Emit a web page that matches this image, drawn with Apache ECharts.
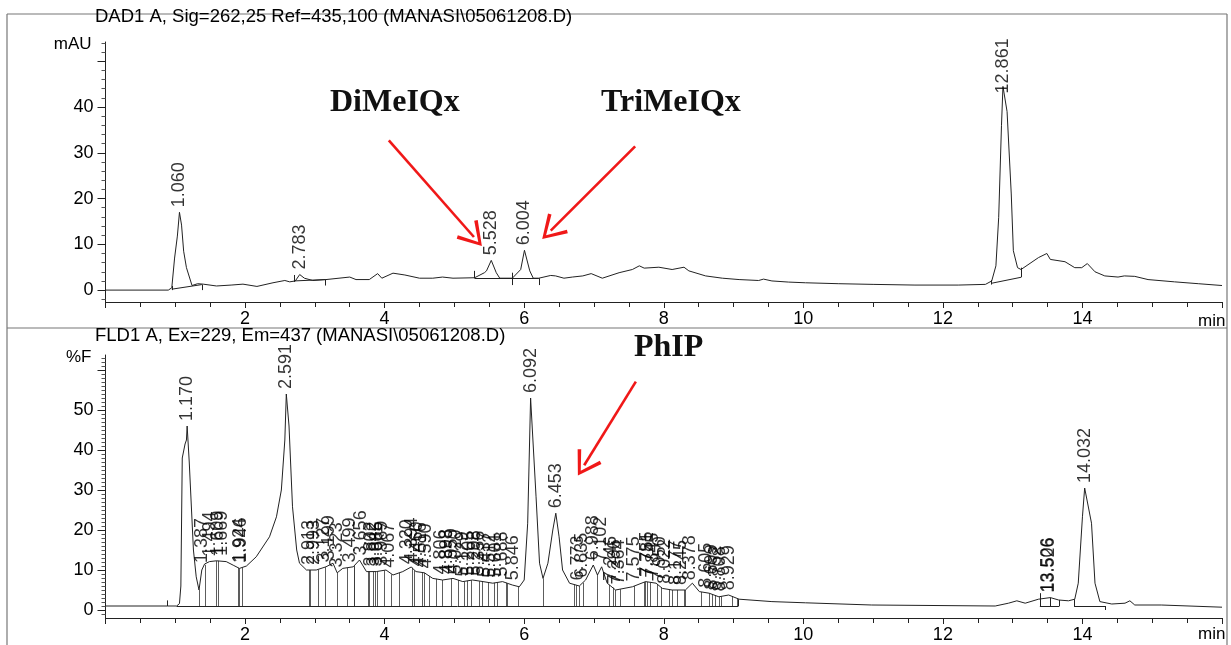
<!DOCTYPE html>
<html>
<head>
<meta charset="utf-8">
<script src="https://cdn.jsdelivr.net/npm/echarts@6/dist/echarts.min.js"></script>
<style>
html,body{margin:0;padding:0;background:#fff;}
#chart{width:1231px;height:645px;}
</style>
</head>
<body>
<div id="chart"></div>
<script>
// ---- DAD1 A trace (time in min, absorbance in mAU) ----
const dadTrace = [
  [0,0],[0.90,0],[0.95,0.5],[0.99,7],[1.03,11.8],[1.06,17],[1.09,14.2],[1.12,8.5],[1.16,4.9],[1.24,1.0],
  [1.32,1.4],[1.40,1.3],[1.59,0.9],[1.80,1.1],[1.97,1.3],[2.17,0.8],[2.40,1.6],[2.57,2.1],[2.64,1.8],
  [2.72,2.0],[2.783,3.4],[2.85,2.6],[2.97,2.1],[3.16,2.3],[3.50,2.85],[3.59,2.3],[3.78,2.3],[3.90,3.6],
  [3.96,2.6],[4.12,3.7],[4.29,3.3],[4.50,2.6],[4.69,2.6],[4.83,2.85],[4.98,2.6],[5.29,2.7],[5.43,3.8],
  [5.46,4.2],[5.528,6.5],[5.60,3.8],[5.65,2.6],[5.83,2.6],[5.95,4.5],[6.004,8.7],[6.08,4.2],[6.13,2.6],
  [6.21,2.6],[6.38,3.2],[6.45,3.1],[6.57,2.6],[6.69,2.85],[6.84,3.1],[6.96,3.6],[7.12,2.6],[7.36,3.8],
  [7.55,4.5],[7.65,5.3],[7.72,4.8],[7.93,5.0],[8.12,4.5],[8.29,5.0],[8.36,4.2],[8.60,3.1],[8.84,2.6],
  [9.08,2.3],[9.36,2.1],[9.43,2.4],[9.55,2.0],[9.79,1.75],[10.03,1.6],[10.5,1.4],[11.0,1.25],[11.6,1.1],
  [12.22,1.1],[12.61,1.25],[12.70,2.0],[12.76,5.3],[12.80,15.9],[12.84,36],[12.861,44.5],[12.92,39],
  [12.98,21],[13.01,8.6],[13.07,4.9],[13.12,4.5],[13.37,7.1],[13.49,8.0],[13.54,6.7],[13.75,6.2],
  [13.89,4.9],[13.99,4.9],[14.07,5.8],[14.18,4.0],[14.32,3.1],[14.51,2.85],[14.60,3.1],[14.75,3.0],
  [14.94,2.3],[15.32,1.8],[15.66,1.4],[16.0,1.0]
];
const dadPeakTimes = [1.060, 2.783, 5.528, 6.004, 12.861];
const dadPeakHeights = [17, 3.4, 6.5, 8.7, 44.5];
// integration baselines and event marks
const dadBaselines = [
  [[0.95,0.2],[1.38,1.2]], [[2.70,2.0],[3.15,2.3]], [[5.29,2.6],[5.83,2.6]],
  [[5.83,2.6],[6.21,2.6]], [[12.70,1.5],[13.12,2.8]]
];
const dadEventMarks = [
  [[0.95,0],[0.95,0.9]], [[1.38,0],[1.38,1.2]], [[2.70,1.8],[2.70,3.3]], [[3.15,1.0],[3.15,2.3]],
  [[5.29,2.6],[5.29,4.2]], [[5.83,1.1],[5.83,3.8]], [[6.21,1.1],[6.21,2.6]],
  [[12.70,1.2],[12.70,2.2]], [[13.12,2.8],[13.12,4.9]]
];

// ---- FLD1 A trace (time in min, fluorescence in %F) ----
const fldTrace = [
  [0,1.0],[0.89,1.0],[1.02,1.0],[1.06,1.6],[1.08,6],[1.10,38],[1.14,41.5],[1.16,42.5],[1.17,46],
  [1.20,37],[1.23,26],[1.26,15],[1.30,8.3],[1.34,5],[1.38,10],[1.42,11.5],[1.44,11.0],[1.49,12.1],
  [1.59,12.3],[1.73,12.1],[1.83,11.2],[1.92,10.4],[2.02,11],[2.16,13.3],[2.35,18.3],[2.45,23.3],
  [2.52,30],[2.57,42.5],[2.591,54],[2.63,46],[2.68,25.8],[2.74,15],[2.78,11.7],[2.88,10],[3.02,10],
  [3.16,10.8],[3.26,11.7],[3.32,9.3],[3.40,10.4],[3.55,10.8],[3.64,12.5],[3.74,9.6],[3.88,9.6],
  [4.02,10],[4.12,8.75],[4.26,9.6],[4.38,10.75],[4.45,9.6],[4.57,9.3],[4.69,7.9],[4.83,7.5],
  [4.98,7.9],[5.12,7.1],[5.26,7.5],[5.41,7.1],[5.55,6.7],[5.69,7.1],[5.83,6.25],[5.93,5.8],[6.0,7.5],
  [6.05,21.7],[6.092,53],[6.17,28.3],[6.22,11.7],[6.27,7.9],[6.34,11.7],[6.41,20],[6.453,24.2],
  [6.50,18.3],[6.55,10],[6.65,6.7],[6.79,6],[6.88,7.5],[6.99,11.25],[7.05,8.75],[7.11,10.8],
  [7.19,6.7],[7.31,5],[7.55,5.8],[7.74,7.1],[7.89,6.7],[7.98,5.4],[8.12,5],[8.31,5],[8.41,6.7],
  [8.51,4.6],[8.65,4.2],[8.79,3.3],[8.93,3.75],[9.08,2.7],[9.55,2.1],[10.03,1.8],[10.98,1.25],
  [12.75,1.0],[12.94,1.7],[13.06,2.3],[13.18,1.7],[13.37,2.7],[13.54,3.1],[13.66,2.5],[13.80,2.3],
  [13.89,2.7],[13.94,6.7],[14.0,23.3],[14.032,30.5],[14.13,21.7],[14.18,6.7],[14.25,2.1],[14.42,1.5],
  [14.61,1.7],[14.68,2.3],[14.75,1.25],[15.13,1.25],[16.0,0.7]
];
const fldPeakTimes = [
  1.170,1.387,1.494,1.609,1.669,1.924,1.946,2.591,2.913,2.993,3.127,3.199,3.323,3.499,3.656,
  3.802,3.842,3.885,3.969,4.067,4.320,4.394,4.460,4.516,4.590,4.806,4.898,4.959,5.020,5.129,
  5.205,5.298,5.356,5.437,5.512,5.601,5.688,5.846,6.092,6.453,6.773,6.835,6.988,7.102,7.246,
  7.296,7.364,7.575,7.755,7.781,7.845,7.950,8.022,8.177,8.245,8.378,8.605,8.699,8.752,8.808,
  8.929,13.506,13.526,14.032
];
const fldPeakHeights = [
  46,10.5,12.1,12.3,12.3,10.5,10.6,54,10,10,10.6,11.2,9.4,10.6,12.4,
  9.6,9.6,9.6,9.8,9.3,10.2,10.6,9.6,9.4,9.1,7.6,7.7,7.9,7.6,7.1,
  7.3,7.4,7.3,7.0,6.8,6.9,7.1,6.2,53,24.2,6.1,6.8,11.2,10.8,6.0,
  5.2,5.1,5.9,7.1,7.0,6.8,5.9,5.3,5.0,5.0,6.2,4.3,3.9,3.6,3.4,
  3.7,3.1,3.1,30.5
];
// drop lines: time and signal level where each line leaves the trace
const fldDropTimes = [
  1.34,1.43,1.59,1.62,1.90,1.92,1.96,2.92,2.94,3.05,3.15,3.32,3.46,3.56,3.57,3.76,3.78,3.83,3.87,
  3.89,3.99,4.10,4.21,4.39,4.43,4.54,4.57,4.64,4.74,4.83,4.95,5.05,5.14,5.19,5.24,5.36,5.40,5.48,
  5.57,5.62,5.74,5.76,5.92,6.27,6.72,6.75,6.79,6.84,7.04,7.22,7.27,7.31,7.38,7.58,7.72,7.74,7.77,
  7.81,7.91,7.96,8.08,8.12,8.19,8.29,8.31,8.54,8.65,8.70,8.74,8.79,8.82,8.98,9.05
];
const fldDropTops = [
  5,11.3,12.3,12.3,10.5,10.4,10.6,10,10,10.1,10.7,9.3,10.5,10.9,11,9.6,9.6,9.6,9.6,
  9.6,9.9,8.9,9.3,10.6,9.9,9.3,9.3,8.5,7.8,7.5,7.8,7.5,7.1,7.3,7.4,7.2,7.1,6.9,
  6.8,6.9,6.8,6.6,5.8,7.9,6.4,6.2,6,6.8,9,6.3,5.6,5,5.2,6,7,7.1,7.0,
  6.9,6.5,5.7,5.1,5,5,5,5,4.5,4.2,3.9,3.6,3.3,3.4,3.5,2.9
];
const fldBaseLevel = 1.0;
const fldBaselines = [
  [[1.02,1.0],[9.07,1.0]], [[13.39,1.0],[13.67,1.0]], [[13.88,1.0],[14.33,1.0]]
];
const fldEventMarks = [
  [[0.89,1.0],[0.89,2.4]], [[9.07,1.0],[9.07,2.7]], [[13.39,1.0],[13.39,4.2]], [[13.54,1.0],[13.54,3.1]],
  [[13.67,1.0],[13.67,2.5]], [[13.88,1.0],[13.88,2.7]], [[14.33,0.0],[14.33,1.0]]
];

// axis ticks and labels
const xLabelValues = [2,4,6,8,10,12,14];
const dadTickValues = [0,10,20,30,40,50];
const dadLabelValues = [0,10,20,30,40];
const dadMinorValues = [-2,2,4,6,8,12,14,16,18,22,24,26,28,32,34,36,38,42,44,46,48,52,54];
const fldTickValues = [0,10,20,30,40,50,60];
const fldLabelValues = [0,10,20,30,40,50];
const fldMinorValues = [];
for (let v = -1; v <= 63; v++) if (v % 10 !== 0) fldMinorValues.push(v);

// annotation arrows (start -> tip, in data units)
const dadArrows = [
  [[4.06,32.7],[5.28,11.6]],
  [[7.59,31.4],[6.38,13.0]]
];
const fldArrows = [
  [[7.60,57.1],[6.86,36.2]]
];

const FONT = 'Liberation Sans, Arial, sans-serif';
const SERIF = 'Liberation Serif, Times New Roman, serif';
const INK = '#000';
const RED = '#f01818';
const chevron = 'path://M10,0 L20,17 L17.8,18.4 L10,4.2 L2.2,18.4 L0,17 Z';

const chart = echarts.init(document.getElementById('chart'), null, {renderer: 'canvas'});

function xAxisFor(gridIndex) {
  return {
    type: 'value', gridIndex, min: 0, max: 16, interval: 2,
    axisLine: {show: true, onZero: false, lineStyle: {color: '#222', width: 1}},
    axisTick: {show: true, length: 6, lineStyle: {color: '#222'}},
    minorTick: {show: true, splitNumber: 4, length: 5, lineStyle: {color: '#222'}},
    axisLabel: {customValues: xLabelValues, fontSize: 18, color: INK, fontFamily: FONT, margin: 8},
    splitLine: {show: false}, minorSplitLine: {show: false}
  };
}
function yAxisMain(gridIndex, min, max, ticks, labels, name) {
  return {
    type: 'value', gridIndex, min, max, position: 'left',
    name, nameLocation: 'end', nameGap: -2,
    nameTextStyle: {align: 'right', verticalAlign: 'middle', padding: [0, 14, 0, 0],
                    fontSize: 17, color: INK, fontFamily: FONT},
    axisLine: {show: true, lineStyle: {color: '#222', width: 1}},
    axisTick: {show: true, customValues: ticks, length: 8, lineStyle: {color: '#222'}},
    axisLabel: {customValues: labels, fontSize: 18, color: INK, fontFamily: FONT, margin: 12},
    splitLine: {show: false}
  };
}
function yAxisMinor(gridIndex, min, max, ticks) {
  return {
    type: 'value', gridIndex, min, max, position: 'left',
    axisLine: {show: false},
    axisTick: {show: true, customValues: ticks, length: 4, lineStyle: {color: '#555'}},
    axisLabel: {show: false}, splitLine: {show: false}
  };
}
function segLines(name, xi, yi, segs, color, width) {
  return {
    name, type: 'lines', coordinateSystem: 'cartesian2d', xAxisIndex: xi, yAxisIndex: yi,
    silent: true, z: 3,
    lineStyle: {color, width, opacity: 1},
    data: segs.map(s => ({coords: s}))
  };
}
function peakLabels(name, xi, yi, times, heights, overrides) {
  return {
    name, type: 'scatter', xAxisIndex: xi, yAxisIndex: yi, symbolSize: 0, silent: true, z: 5,
    label: {show: true, rotate: 90, position: 'top', distance: 5, align: 'left', verticalAlign: 'middle',
            fontSize: 18, color: INK, fontFamily: FONT,
            formatter: p => p.value[0].toFixed(3)},
    data: times.map((t, i) => {
      const item = {value: [t, heights[i]]};
      if (overrides && overrides[t]) item.label = overrides[t];
      return item;
    })
  };
}
function arrowMarks(arrows) {
  return {
    silent: true, symbol: ['none', chevron], symbolSize: [28, 24],
    lineStyle: {color: RED, width: 2.6, type: 'solid'},
    itemStyle: {color: RED},
    label: {show: false}, emphasis: {disabled: true},
    data: arrows.map(a => [{coord: a[0]}, {coord: a[1]}])
  };
}

const dropSegs = fldDropTimes.map((t, i) => [[t, fldDropTops[i]], [t, fldBaseLevel]]);

const option = {
  animation: false,
  backgroundColor: '#fff',
  grid: [
    {left: 105.5, right: 9, top: 42, height: 260},
    {left: 105.5, right: 9, top: 355, height: 263}
  ],
  xAxis: [xAxisFor(0), xAxisFor(1)],
  yAxis: [
    yAxisMain(0, -2.6, 54.2, dadTickValues, dadLabelValues, 'mAU'),
    yAxisMinor(0, -2.6, 54.2, dadMinorValues),
    yAxisMain(1, -2, 63.75, fldTickValues, fldLabelValues, '%F'),
    yAxisMinor(1, -2, 63.75, fldMinorValues)
  ],
  series: [
    {
      name: 'DAD1 A', type: 'line', xAxisIndex: 0, yAxisIndex: 0, data: dadTrace,
      showSymbol: false, symbol: 'none', silent: true, z: 4,
      lineStyle: {color: '#222', width: 1},
      markLine: arrowMarks(dadArrows)
    },
    segLines('DAD baselines', 0, 0, dadBaselines, '#222', 1),
    segLines('DAD events', 0, 0, dadEventMarks, '#222', 1),
    peakLabels('DAD peaks', 0, 0, dadPeakTimes, dadPeakHeights, {'12.861': {distance: -7}}),
    {
      name: 'FLD1 A', type: 'line', xAxisIndex: 1, yAxisIndex: 2, data: fldTrace,
      showSymbol: false, symbol: 'none', silent: true, z: 4,
      lineStyle: {color: '#222', width: 1},
      markLine: arrowMarks(fldArrows)
    },
    segLines('FLD baselines', 1, 2, fldBaselines, '#222', 1),
    segLines('FLD drop lines', 1, 2, dropSegs, '#333', 0.8),
    segLines('FLD events', 1, 2, fldEventMarks, '#222', 1),
    peakLabels('FLD peaks', 1, 2, fldPeakTimes, fldPeakHeights, null)
  ],
  graphic: [
    // page frame and panel divider
    {type: 'line', shape: {x1: 7, y1: 14, x2: 1227, y2: 14}, style: {stroke: '#777', lineWidth: 1.2}},
    {type: 'line', shape: {x1: 7, y1: 14, x2: 7, y2: 645}, style: {stroke: '#777', lineWidth: 1.2}},
    {type: 'line', shape: {x1: 1227, y1: 14, x2: 1227, y2: 645}, style: {stroke: '#777', lineWidth: 1.2}},
    {type: 'line', shape: {x1: 7, y1: 328, x2: 1227, y2: 328}, style: {stroke: '#777', lineWidth: 1.2}},
    // signal titles
    {type: 'text', left: 95, top: 7, style: {text: 'DAD1 A, Sig=262,25 Ref=435,100 (MANASI\\05061208.D)',
      font: '18.5px ' + FONT, fill: INK}},
    {type: 'text', left: 95, top: 326, style: {text: 'FLD1 A, Ex=229, Em=437 (MANASI\\05061208.D)',
      font: '18.5px ' + FONT, fill: INK}},
    // time unit
    {type: 'text', left: 1198, top: 313, style: {text: 'min', font: '17px ' + FONT, fill: INK}},
    {type: 'text', left: 1198, top: 626, style: {text: 'min', font: '17px ' + FONT, fill: INK}},
    // compound names
    {type: 'text', left: 330, top: 87, style: {text: 'DiMeIQx', font: 'bold 32px ' + SERIF, fill: '#111'}},
    {type: 'text', left: 601, top: 87, style: {text: 'TriMeIQx', font: 'bold 32px ' + SERIF, fill: '#111'}},
    {type: 'text', left: 634, top: 332, style: {text: 'PhIP', font: 'bold 32px ' + SERIF, fill: '#111'}}
  ]
};
chart.setOption(option);
</script>
</body>
</html>
